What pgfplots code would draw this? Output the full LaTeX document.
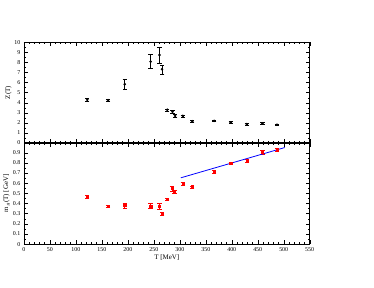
\documentclass[border=0pt]{standalone}
\usepackage{pgfplots}
\pgfplotsset{compat=1.18}
\usepackage{pgfplotstable}
\usepackage{fontspec}
\setmainfont{Liberation Serif}
\pgfplotstableread{
T Z e
122 4.29 0.15
162 4.26 0.10
194 5.84 0.48
244 8.09 0.70
261 8.74 0.82
266 7.33 0.45
276 3.30 0.10
286 3.10 0.15
291 2.70 0.12
306 2.70 0.10
324 2.15 0.08
366 2.20 0.08
398 2.04 0.08
429 1.88 0.08
459 1.95 0.08
487 1.82 0.08
}\ztab
\pgfplotstableread{
T m e
122 0.470 0.015
162 0.373 0.010
194 0.382 0.025
244 0.376 0.025
261 0.373 0.030
266 0.304 0.015
276 0.441 0.010
285 0.549 0.025
290 0.513 0.015
306 0.591 0.015
324 0.565 0.010
366 0.709 0.015
398 0.797 0.010
429 0.824 0.015
459 0.905 0.015
487 0.928 0.012
}\mtab
\pgfplotsset{
  every axis/.append style={
    scale only axis, width=287bp,
    xmin=0, xmax=550,
    xtick={0,50,...,550}, minor x tick num=4,
    tick align=inside,
    major tick length=4bp, minor tick length=2bp,
    tick style={black, line width=0.4pt},
    tick label style={font=\fontsize{6}{7}\selectfont},
    label style={font=\fontsize{7}{8}\selectfont},
    /pgf/number format/assume math mode=true,
    axis line style={line width=0.5pt},
  }
}
\begin{document}
\begin{tikzpicture}[x=1bp,y=1bp]
\path (0,0) rectangle (374,289);
% lower panel
\begin{axis}[at={(43,43)}, anchor=south west, height=102bp,
  ymin=0, ymax=1,
  ytick={0,0.1,...,0.91}, minor y tick num=1,
  yticklabel style={/pgf/number format/fixed, /pgf/number format/precision=1},
  xlabel={T [MeV]}, ylabel={m$_g$(T) [GeV]},
  xlabel style={yshift=4bp}, ylabel style={yshift=-4bp},
]
\addplot[red, only marks, mark=square*, mark size=1.1pt,
  error bars/.cd, y dir=both, y explicit,
  error bar style={red, line width=0.5pt}, error mark options={rotate=90, mark size=2.2pt, red}]
  table[x=T, y=m, y error=e]{\mtab};
\addplot[blue, line width=0.8pt] coordinates {(302,0.653) (502,0.951)};
\end{axis}
% upper panel
\begin{axis}[at={(43,144)}, anchor=south west, height=101bp,
  ymin=0, ymax=10,
  ytick={0,1,...,10}, minor y tick num=1,
  xticklabels={},
  ylabel={Z(T)}, ylabel style={yshift=-4bp},
]
\addplot[black, only marks, mark=*, mark size=1.1pt,
  error bars/.cd, y dir=both, y explicit,
  error bar style={black, line width=0.5pt}, error mark options={rotate=90, mark size=2.2pt, black}]
  table[x=T, y=Z, y error=e]{\ztab};
\end{axis}
\end{tikzpicture}
\end{document}
